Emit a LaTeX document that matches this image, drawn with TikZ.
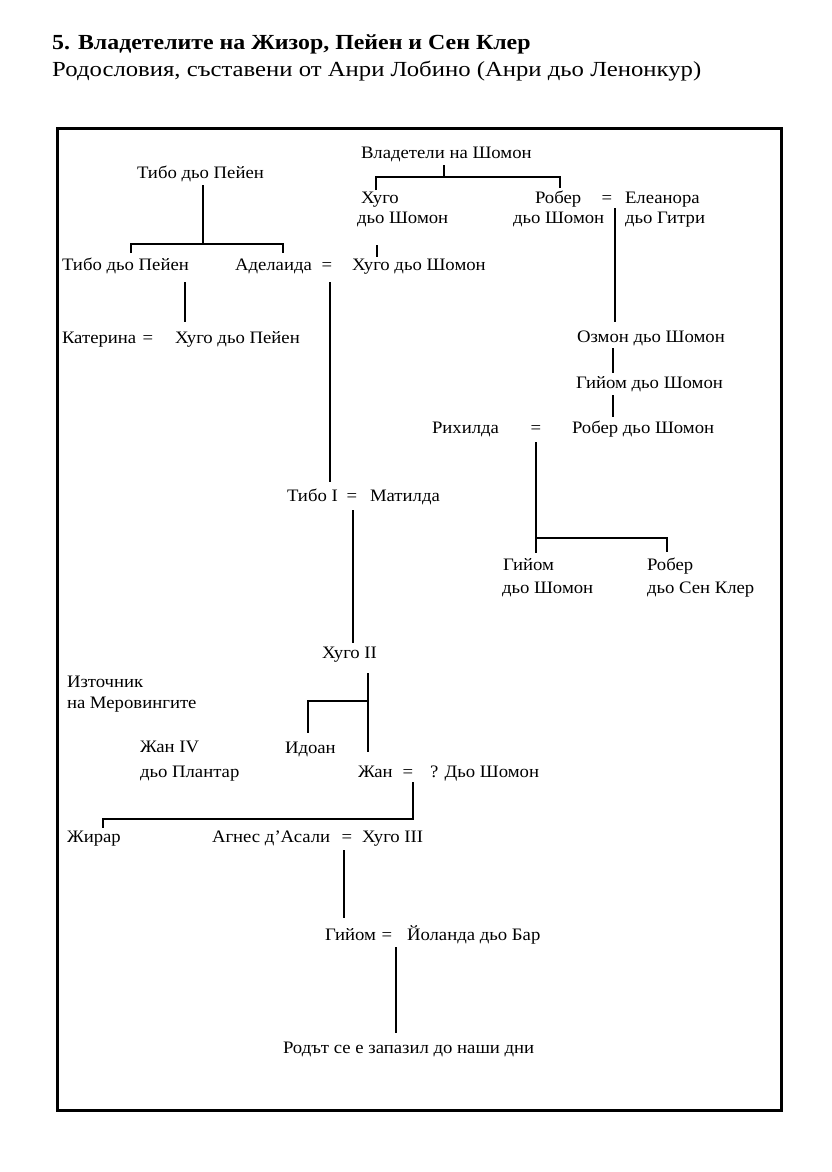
\documentclass[tikz,border=0pt]{standalone}
\usepackage{fontspec}
\setmainfont{Liberation Serif}
\newfontfamily\diagfont[FakeStretch=1.07]{Liberation Serif}
\newfontfamily\titlefont[FakeStretch=1.11]{Liberation Serif}
\newfontfamily\subtfont[FakeStretch=1.15]{Liberation Serif}
\begin{document}
\begin{tikzpicture}[x=1pt,y=-1pt,
  lbl/.style={anchor=base west,inner sep=0pt,outer sep=0pt,font=\diagfont\fontsize{17.5}{20}\selectfont},
  eqs/.style={anchor=base,inner sep=0pt,outer sep=0pt,font=\diagfont\fontsize{17.5}{20}\selectfont},
  link/.style={line width=2.8pt,line cap=butt,line join=miter},
  frame/.style={line width=3pt}]
\useasboundingbox (0,0) rectangle (831,1172);
% heading
\node[anchor=base west,inner sep=0pt,font=\titlefont\bfseries\fontsize{21.5}{24}\selectfont] (title) at (52,49) {5. Владетелите на Жизор, Пейен и Сен Клер};
\node[anchor=base west,inner sep=0pt,font=\subtfont\fontsize{21.5}{24}\selectfont] (subtitle) at (52,77) {Родословия, съставени от Анри Лобино (Анри дьо Ленонкур)};
% frame
\draw[frame] (57,128) rectangle (781,1110);
% Payen branch
\node[lbl] (tp1) at (137,178) {Тибо дьо Пейен};
\node[lbl] (tp2) at (62,270) {Тибо дьо Пейен};
\node[lbl] (adel) at (235,270) {Аделаида};
\node[eqs] (eqA) at (327,270) {=};
\node[lbl] (hsh2) at (352,270) {Хуго дьо Шомон};
\node[lbl] (kat) at (62,343) {Катерина};
\node[eqs] (eqK) at (148,343) {=};
\node[lbl] (hpey) at (175,343) {Хуго дьо Пейен};
% Chaumont branch
\node[lbl] (vlad) at (361,158) {Владетели на Шомон};
\node[lbl] (hsh1a) at (361,203) {Хуго};
\node[lbl] (hsh1b) at (357,223) {дьо Шомон};
\node[lbl] (rob1a) at (535,203) {Робер};
\node[lbl] (rob1b) at (513,223) {дьо Шомон};
\node[eqs] (eqR) at (607,203) {=};
\node[lbl] (elea) at (625,203) {Елеанора};
\node[lbl] (eleb) at (625,223) {дьо Гитри};
\node[lbl] (ozm) at (577,342) {Озмон дьо Шомон};
\node[lbl] (giy1) at (576,388) {Гийом дьо Шомон};
\node[lbl] (rih) at (432,433) {Рихилда};
\node[eqs] (eqRi) at (536,433) {=};
\node[lbl] (rob2) at (572,433) {Робер дьо Шомон};
\node[lbl] (giy2a) at (503,570) {Гийом};
\node[lbl] (giy2b) at (502,593) {дьо Шомон};
\node[lbl] (rsca) at (647,570) {Робер};
\node[lbl] (rscb) at (647,593) {дьо Сен Клер};
% Gisors line
\node[lbl] (tib1) at (287,501) {Тибо I};
\node[eqs] (eqT) at (352,501) {=};
\node[lbl] (mat) at (370,501) {Матилда};
\node[lbl] (hugoII) at (322,658) {Хуго II};
\node[lbl] (izta) at (67,687) {Източник};
\node[lbl] (iztb) at (67,708) {на Меровингите};
\node[lbl] (idoan) at (285,753) {Идоан};
\node[lbl] (j4a) at (140,752) {Жан IV};
\node[lbl] (j4b) at (140,777) {дьо Плантар};
\node[lbl] (jan) at (358,777) {Жан};
\node[eqs] (eqJ) at (408,777) {=};
\node[lbl] (dsh) at (430,777) {? Дьо Шомон};
\node[lbl] (zhir) at (67,842) {Жирар};
\node[lbl] (agn) at (212,842) {Агнес д’Асали};
\node[eqs] (eqAg) at (347,842) {=};
\node[lbl] (hIII) at (362,842) {Хуго III};
\node[lbl] (giy3) at (325,940) {Гийом};
\node[eqs] (eqG) at (387,940) {=};
\node[lbl] (yol) at (407,940) {Йоланда дьо Бар};
\node[lbl] (rod) at (283,1053) {Родът се е запазил до наши дни};
% connector points
\coordinate (c1a) at (203,185); \coordinate (c1b) at (203,244);
\coordinate (c1l) at (131,253); \coordinate (c1r) at (283,253);
\coordinate (c2a) at (185,282); \coordinate (c2b) at (185,322);
\coordinate (c3a) at (330,282); \coordinate (c3b) at (330,482);
\coordinate (c4a) at (444,165); \coordinate (c4b) at (444,177);
\coordinate (c4l) at (376,190); \coordinate (c4r) at (560,188);
\coordinate (c5a) at (377,245); \coordinate (c5b) at (377,257);
\coordinate (c6a) at (615,208); \coordinate (c6b) at (615,322);
\coordinate (c7a) at (613,348); \coordinate (c7b) at (613,373);
\coordinate (c8a) at (613,395); \coordinate (c8b) at (613,417);
\coordinate (c9a) at (536,442); \coordinate (c9b) at (536,553);
\coordinate (c9j) at (536,538); \coordinate (c9r) at (667,552);
\coordinate (c10a) at (353,510); \coordinate (c10b) at (353,643);
\coordinate (c11a) at (368,673); \coordinate (c11b) at (368,752);
\coordinate (c11j) at (368,701); \coordinate (c11l) at (308,733);
\coordinate (c12a) at (413,782); \coordinate (c12j) at (413,819);
\coordinate (c12l) at (103,828);
\coordinate (c13a) at (344,850); \coordinate (c13b) at (344,918);
\coordinate (c14a) at (396,947); \coordinate (c14b) at (396,1033);
% connectors
\draw[link] (c1a) -- (c1b);
\draw[link] (c1l) |- (c1b) -| (c1r);
\draw[link] (c2a) -- (c2b);
\draw[link] (c3a) -- (c3b);
\draw[link] (c4a) -- (c4b);
\draw[link] (c4l) |- (c4b) -| (c4r);
\draw[link] (c5a) -- (c5b);
\draw[link] (c6a) -- (c6b);
\draw[link] (c7a) -- (c7b);
\draw[link] (c8a) -- (c8b);
\draw[link] (c9a) -- (c9b);
\draw[link] (c9j) -| (c9r);
\draw[link] (c10a) -- (c10b);
\draw[link] (c11a) -- (c11b);
\draw[link] (c11j) -| (c11l);
\draw[link] (c12a) |- (c12j) -| (c12l);
\draw[link] (c13a) -- (c13b);
\draw[link] (c14a) -- (c14b);
\end{tikzpicture}
\end{document}
